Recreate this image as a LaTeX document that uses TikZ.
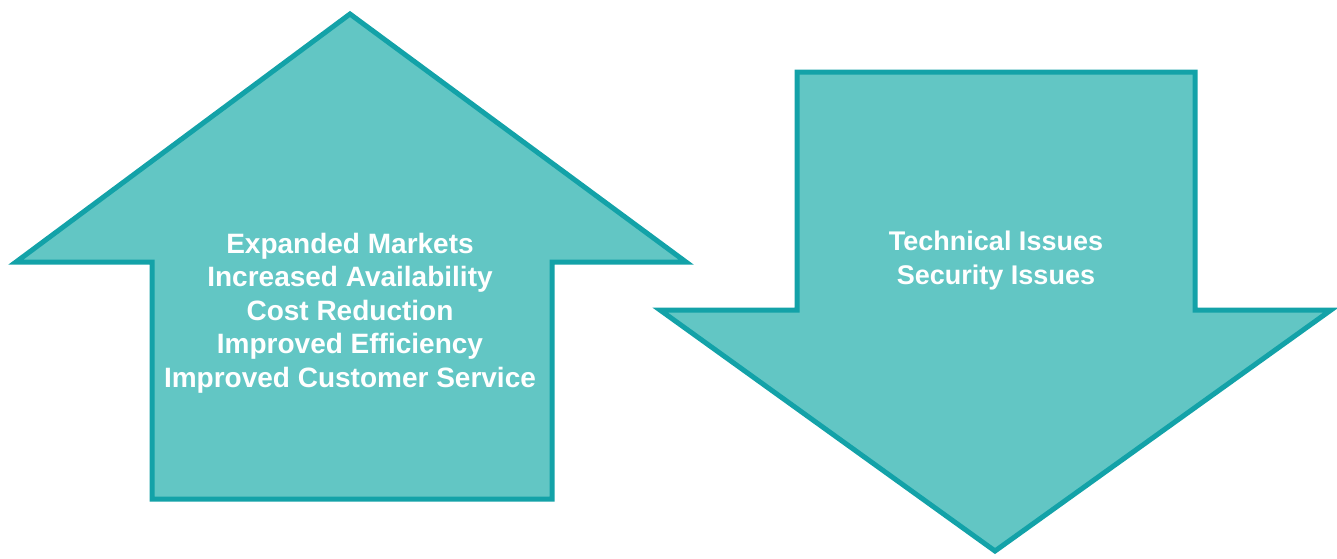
\documentclass[tikz,border=0pt]{standalone}
\usepackage{fontspec}
\setmainfont{Liberation Sans}
\begin{document}
\begin{tikzpicture}[x=1pt,y=-1pt,
  bigarrow/.style={draw=arrowline,fill=arrowfill,line width=5pt,line join=miter},
  arrowtext/.style={text=white,font=\fontsize{28}{33.5}\selectfont\bfseries,align=center,inner sep=0pt}]
\definecolor{arrowfill}{HTML}{62C6C4}
\definecolor{arrowline}{HTML}{13A2A8}
\useasboundingbox (0,0) rectangle (1337,558);
% up arrow
\draw[bigarrow] (350,14) -- (686,262) -- (552,262) -- (552,499) -- (152,499) -- (152,262) -- (16,262) -- cycle;
% down arrow
\draw[bigarrow] (797,72) -- (1195,72) -- (1195,310) -- (1331,310) -- (995,551) -- (660,310) -- (797,310) -- cycle;
\node[arrowtext] (up) at (350,313) {Expanded Markets\\Increased Availability\\Cost Reduction\\Improved Efficiency\\Improved Customer Service};
\node[arrowtext,font=\fontsize{27}{34}\selectfont\bfseries] (down) at (996,261) {Technical Issues\\Security Issues};
\end{tikzpicture}
\end{document}
